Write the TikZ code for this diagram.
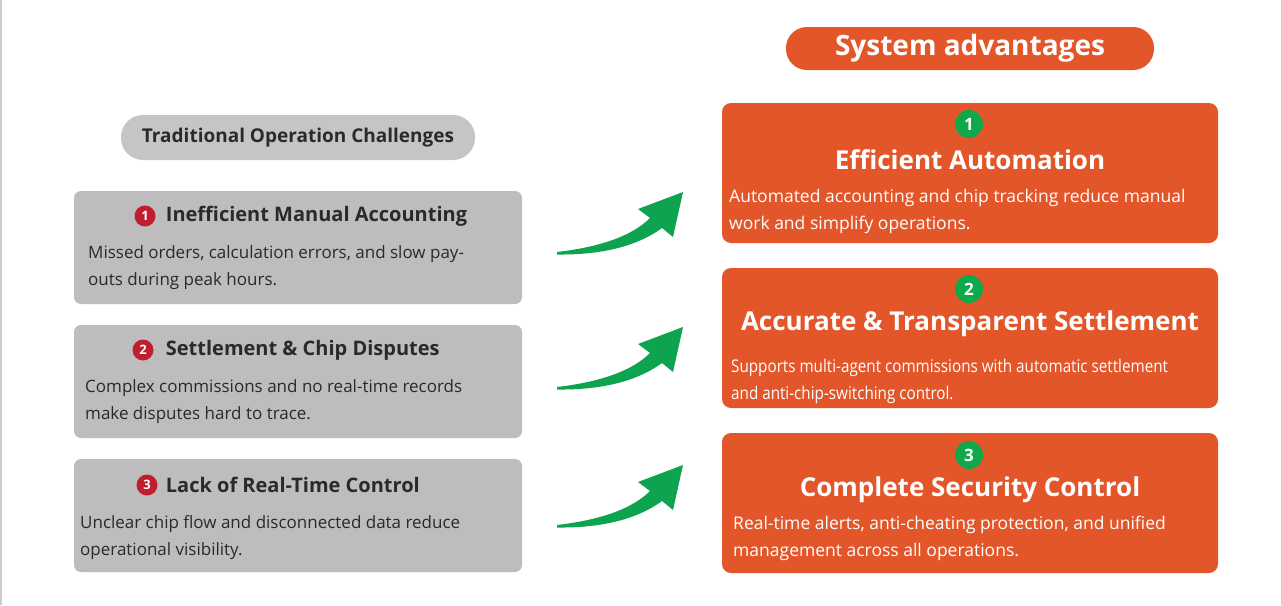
\documentclass[tikz,border=0pt]{standalone}
\usepackage{fontspec}
\setmainfont{Open Sans}
\usepackage{graphicx}
\usetikzlibrary{positioning}
\definecolor{gbox}{HTML}{BEBCBC}
\definecolor{gpill}{HTML}{C6C5C5}
\definecolor{obox}{HTML}{E3562A}
\definecolor{badgeg}{HTML}{0FA84B}
\definecolor{badger}{HTML}{BF1E2E}
\definecolor{arrowg}{HTML}{0DA34F}
\definecolor{dtext}{HTML}{2A2A2A}
\tikzset{
  lbox/.style={fill=gbox,rounded corners=7pt},
  rbox/.style={fill=obox,rounded corners=9pt},
  rbadge/.style={circle,fill=badger,text=white,inner sep=0pt,minimum size=21pt,font=\fontsize{13}{13}\selectfont\bfseries},
  gbadge/.style={circle,fill=badgeg,text=white,inner sep=0pt,minimum size=28pt,font=\fontsize{17}{17}\selectfont\bfseries},
  ltitle/.style={anchor=west,text=dtext,inner sep=0pt,font=\fontsize{20}{20}\selectfont\bfseries},
  ldesc/.style={anchor=north west,text=dtext,inner sep=0pt,align=left,font=\fontsize{17}{27}\selectfont},
  rtitle/.style={text=white,inner sep=0pt,font=\fontsize{26}{26}\selectfont\bfseries},
  rdesc/.style={anchor=north west,text=white,inner sep=0pt,align=left,font=\fontsize{17.5}{27}\selectfont},
}
\begin{document}
\begin{tikzpicture}[x=1pt,y=-1pt]
\useasboundingbox (0,0) rectangle (1282,605);
\fill[white] (0,0) rectangle (1282,605);
\fill[gray!40] (0,0) rectangle (1.5,605);
\fill[gray!40] (1280.5,0) rectangle (1282,605);
% header pills
\node[fill=gpill,rounded corners=22pt,minimum width=354pt,minimum height=45pt,inner sep=0pt,font=\fontsize{19}{19}\selectfont\bfseries,text=dtext] (lhead) at (298,137.5) {Traditional Operation Challenges};
\node[fill=obox,rounded corners=21pt,minimum width=368pt,minimum height=43pt,inner sep=0pt,font=\fontsize{28}{28}\selectfont\bfseries,text=white] (rhead) at (970,48.5) {System advantages};
% left boxes
\foreach \y in {191,325,459}{
  \fill[lbox] (74,\y) rectangle (522,\y+113);
}
\node[rbadge] (b1) at (145,216) {1};
\node[ltitle,right=10pt of b1] (t1) {Inefficient Manual Accounting};
\node[ldesc] (d1) at (88,245) {Missed orders, calculation errors, and slow pay-\\outs during peak hours.};
\node[rbadge] (b2) at (143,350) {2};
\node[ltitle,right=12pt of b2] (t2) {Settlement \& Chip Disputes};
\node[ldesc] (d2) at (85,379) {Complex commissions and no real-time records\\make disputes hard to trace.};
\node[rbadge] (b3) at (147,485) {3};
\node[ltitle,right=8pt of b3] (t3) {Lack of Real-Time Control};
\node[ldesc] (d3) at (80,515) {Unclear chip flow and disconnected data reduce\\operational visibility.};
% right boxes
\fill[rbox] (722,103) rectangle (1218,243);
\fill[rbox] (722,268) rectangle (1218,408);
\fill[rbox] (722,433) rectangle (1218,573);
\node[gbadge] (g1) at (969,124) {1};
\node[rtitle] (r1) at (970,160) {Efficient Automation};
\node[rdesc] (e1) at (729,189) {Automated accounting and chip tracking reduce manual\\work and simplify operations.};
\node[gbadge] (g2) at (969,289) {2};
\node[rtitle] (r2) at (970,324) {Accurate \& Transparent Settlement};
\node[rdesc] (e2) at (731,353) {\scalebox{0.87}[1]{\begin{tabular}{@{}l@{}}Supports multi-agent commissions with automatic settlement\\[0pt]and anti-chip-switching control.\end{tabular}}};
\node[gbadge] (g3) at (969,455) {3};
\node[rtitle] (r3) at (970,490) {Complete Security Control};
\node[rdesc] (e3) at (733,516) {Real-time alerts, anti-cheating protection, and unified\\management across all operations.};
% arrows
\foreach \o in {0,135,273}{
\fill[arrowg] (557,252+\o) .. controls (600,247+\o) and (632,236+\o) .. (650,218+\o)
  -- (638,209+\o) -- (683,192+\o) -- (673,237+\o) -- (662,228+\o)
  .. controls (636,247+\o) and (600,255+\o) .. (557,254.5+\o) -- cycle;
}
\end{tikzpicture}
\end{document}
